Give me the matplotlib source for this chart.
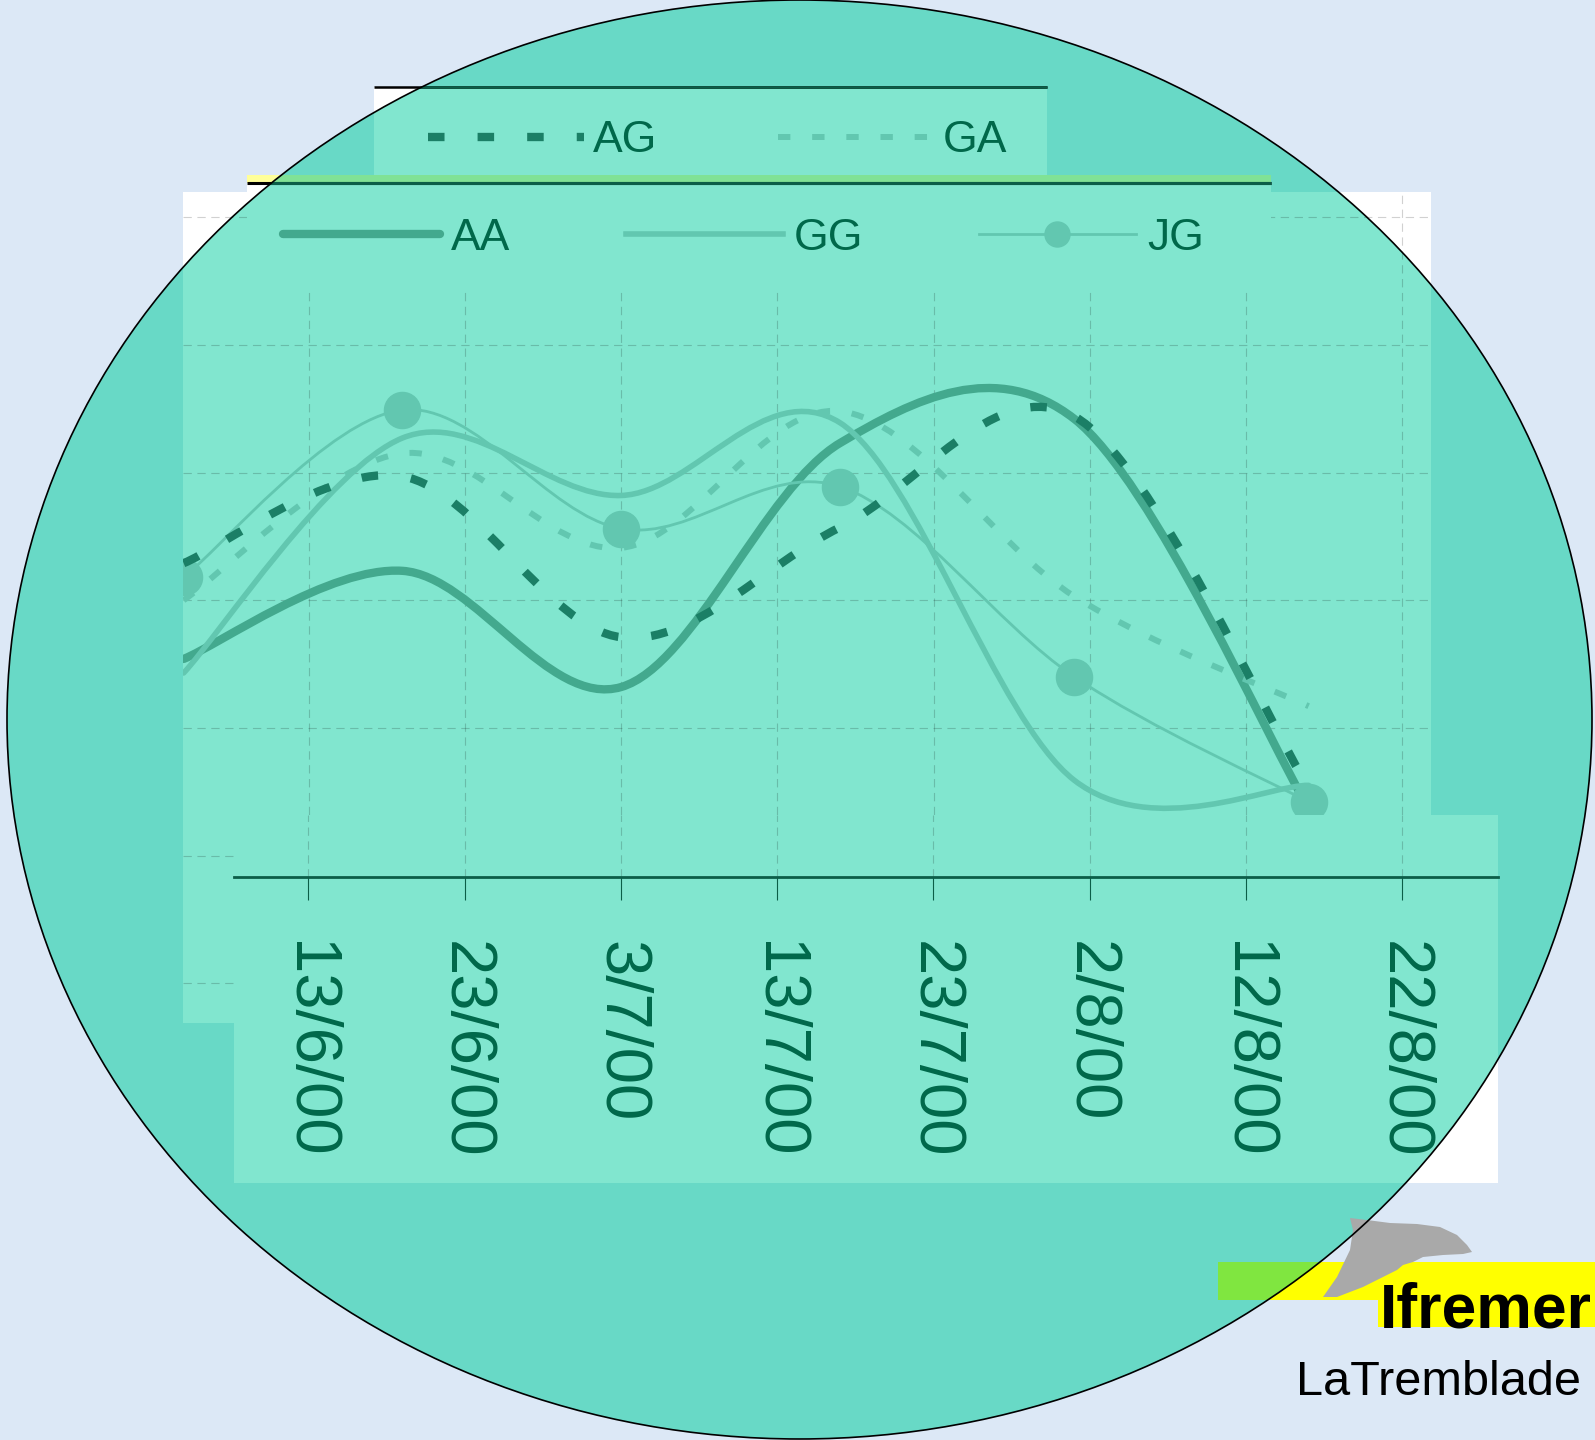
import numpy as np
import matplotlib.pyplot as plt
from matplotlib.patches import Ellipse, Rectangle, PathPatch, Polygon
from matplotlib.path import Path
from matplotlib.lines import Line2D

plt.rcParams['lines.scale_dashes'] = False
plt.rcParams['font.family'] = ['Liberation Sans', 'DejaVu Sans']

# sampling dates and values (gridlines every 10 units)
dates = ['2000-06-05', '2000-06-19', '2000-07-03', '2000-07-17', '2000-08-01', '2000-08-16']
aa = [25.4, 32.3, 23.2, 42.3, 44.2, 13.7]
gg = [24.3, 42.7, 38.2, 43.9, 15.9, 15.5]
jg = [31.8, 44.9, 35.6, 38.9, 24.0, 14.2]
ag = [32.9, 39.7, 27.1, 35.7, 44.4, 15.3]
ga = [30.0, 41.5, 34.1, 44.8, 30.3, 21.7]

tick_days = [0, 10, 20, 30, 40, 50, 60, 70]
tick_labels = ['13/6/00', '23/6/00', '3/7/00', '13/7/00', '23/7/00', '2/8/00', '12/8/00', '22/8/00']

days = (np.array(dates, dtype='datetime64[D]') - np.datetime64('2000-06-13')).astype(float)

BG = '#DCE8F6'
TEAL = '#68D9C6'
MINT = '#81E6CF'
AA_C = '#43A98E'
LIGHT = '#62C7B0'
AG_C = '#1B7F66'
TXT = '#00684A'
DARK = '#0B5E48'

W, H = 1595, 1440
fig = plt.figure(figsize=(W / 100, H / 100), dpi=100, facecolor=BG)


def frac(x0, y0, x1, y1):
    return [x0 / W, 1 - y1 / H, (x1 - x0) / W, (y1 - y0) / H]


def pixel_axes(z):
    a = fig.add_axes([0, 0, 1, 1], zorder=z)
    a.set_xlim(0, W)
    a.set_ylim(H, 0)
    a.axis('off')
    a.patch.set_visible(False)
    return a


# background circle
ax_bg = pixel_axes(0)
circle = Ellipse((799.5, 719.5), 1585, 1439, fc=TEAL, ec='none', zorder=1)
ax_bg.add_patch(circle)


def two_tone(a, x, y, w, h, outside, inside, z=1):
    a.add_patch(Rectangle((x, y), w, h, fc=outside, ec='none', zorder=z))
    r = Rectangle((x, y), w, h, fc=inside, ec='none', zorder=z + 0.01)
    a.add_patch(r)
    r.set_clip_path(circle)


def two_tone_hline(a, y, x0, x1, lw):
    a.hlines(y, x0, x1, color='black', lw=lw, zorder=3)
    ln = a.hlines(y, x0, x1, color=DARK, lw=lw, zorder=3.1)
    ln.set_clip_path(circle)


# logo
two_tone(ax_bg, 1218, 1262, 377, 38, '#FFFF00', '#80E640', z=2)
ax_bg.add_patch(Rectangle((1378, 1262), 217, 65, fc='#FFFF00', ec='none', zorder=2.1))
dolphin = [(1350, 1218), (1367, 1220), (1390, 1223), (1417, 1224), (1440, 1227), (1457, 1235),
           (1467, 1245), (1472, 1252), (1463, 1254), (1443, 1255), (1423, 1257), (1413, 1262),
           (1403, 1265), (1397, 1270), (1383, 1277), (1363, 1287), (1337, 1297), (1323, 1297),
           (1337, 1277), (1350, 1250), (1353, 1230)]
ax_bg.add_patch(Polygon(dolphin, closed=True, fc='#A9A9A9', ec='none', zorder=3))
ax_bg.text(1380, 1327, 'Ifremer', fontsize=45, fontweight='bold',
           color='black', va='baseline', zorder=4)
ax_bg.text(1296, 1395, 'LaTremblade', fontsize=35, color='black',
           va='baseline', zorder=4)

# main plot area
ax = fig.add_axes(frac(183, 191.7, 1431, 1023), zorder=1)
ax.set_facecolor('white')
m = Rectangle((0, 0), 1, 1, transform=ax.transAxes, fc=MINT, ec='none', zorder=0.1)
ax.add_patch(m)
m.set_clip_path(circle)
ax.set_xlim(-8.04, 71.83)
ax.set_ylim(-3.11, 61.99)
ax.set_xticks(tick_days)
ax.set_yticks(range(0, 61, 10))
ax.tick_params(length=0, labelbottom=False, labelleft=False)
for s in ax.spines.values():
    s.set_visible(False)
ax.set_axisbelow(True)
ax.grid(color='black', alpha=0.18, lw=0.8, ls=(0, (6, 4)))


def smooth_path(xs, ys):
    pts = np.column_stack([xs, ys])
    n = len(pts)
    verts = [pts[0]]
    codes = [Path.MOVETO]
    for i in range(n - 1):
        p0 = pts[i - 1] if i > 0 else pts[i]
        p1 = pts[i]
        p2 = pts[i + 1]
        p3 = pts[i + 2] if i + 2 < n else pts[i + 1]
        verts += [p1 + (p2 - p0) / 6, p2 - (p3 - p1) / 6, p2]
        codes += [Path.CURVE4] * 3
    return Path(verts, codes)


AG_DASH = (0, (11.9, 23.8))
GA_DASH = (0, (8.9, 15.7))

ax.add_patch(PathPatch(smooth_path(days, aa), fill=False, ec=AA_C, lw=6,
                       capstyle='round', joinstyle='round', zorder=2))
ax.add_patch(PathPatch(smooth_path(days, gg), fill=False, ec=LIGHT, lw=4,
                       capstyle='round', joinstyle='round', zorder=2.1))
ax.add_patch(PathPatch(smooth_path(days, jg), fill=False, ec=LIGHT, lw=2,
                       capstyle='round', joinstyle='round', zorder=2.2))
ax.plot(days, jg, 'o', ms=26, color=LIGHT, zorder=2.3)
ax.add_patch(PathPatch(smooth_path(days, ga), fill=False, ec=LIGHT, lw=4.3,
                       ls=GA_DASH, capstyle='butt', zorder=2.4))
ax.add_patch(PathPatch(smooth_path(days, ag), fill=False, ec=AG_C, lw=6,
                       ls=AG_DASH, capstyle='butt', zorder=2.5))

# overlay boxes (legends, strip, lower axis panel)
ax_ov = pixel_axes(2)
two_tone(ax_ov, 374, 87.3, 673, 87.7, 'white', MINT)
two_tone(ax_ov, 247, 175, 1024, 8.3, '#FFFF99', '#80E296')
two_tone(ax_ov, 247, 183.3, 1024, 106.7, 'white', MINT)
two_tone(ax_ov, 234, 815, 1264, 368, 'white', MINT)
two_tone_hline(ax_ov, 87.3, 374, 1047, 1.8)
two_tone_hline(ax_ov, 183.3, 247, 1271, 2.2)

# lower date axis panel
ax2 = fig.add_axes(frac(234, 815, 1498, 876.7), zorder=3)
ax2.patch.set_visible(False)
ax2.set_xlim(-4.754, 76.12)
ax2.set_ylim(0, 1)
for side in ['top', 'left', 'right']:
    ax2.spines[side].set_visible(False)
ax2.spines['bottom'].set_color(DARK)
ax2.spines['bottom'].set_linewidth(2)
ax2.set_yticks([])
ax2.set_xticks(tick_days)
ax2.set_xticklabels(tick_labels)
ax2.tick_params(axis='x', direction='out', length=16.5, width=0.8, color=DARK, pad=30,
                labelsize=47, labelcolor=TXT, labelrotation=270)
ax2.grid(axis='x', color='black', alpha=0.18, lw=0.8, ls=(0, (6, 4)))

# circle outline on top
ax_top = pixel_axes(4)
ax_top.add_patch(Ellipse((799.5, 719.5), 1585, 1439, fill=False, ec='black', lw=1.2))

# legends
h_aa = Line2D([], [], color=AA_C, lw=6, solid_capstyle='round')
h_gg = Line2D([], [], color=LIGHT, lw=4)
h_jg = Line2D([], [], color=LIGHT, lw=2, marker='o', ms=18)
h_ag = Line2D([], [], color=AG_C, lw=6, ls=AG_DASH, dash_capstyle='butt')
h_ga = Line2D([], [], color=LIGHT, lw=4.3, ls=GA_DASH, dash_capstyle='butt')

fig.legend([h_aa, h_gg, h_jg], ['AA', 'GG', 'JG'], loc='center left',
           bbox_to_anchor=(283 / W, 1 - 238 / H), ncol=3, frameon=False, fontsize=32,
           handlelength=3.53, handletextpad=0.25, columnspacing=2.6, borderpad=0,
           borderaxespad=0, labelcolor=TXT)
fig.legend([h_ag, h_ga], ['AG', 'GA'], loc='center left',
           bbox_to_anchor=(428 / W, 1 - 141 / H), ncol=2, frameon=False, fontsize=32,
           handlelength=3.5, handletextpad=0.22, columnspacing=2.7, borderpad=0,
           borderaxespad=0, labelcolor=TXT)

fig.savefig('out.png', dpi=100, facecolor=BG)
